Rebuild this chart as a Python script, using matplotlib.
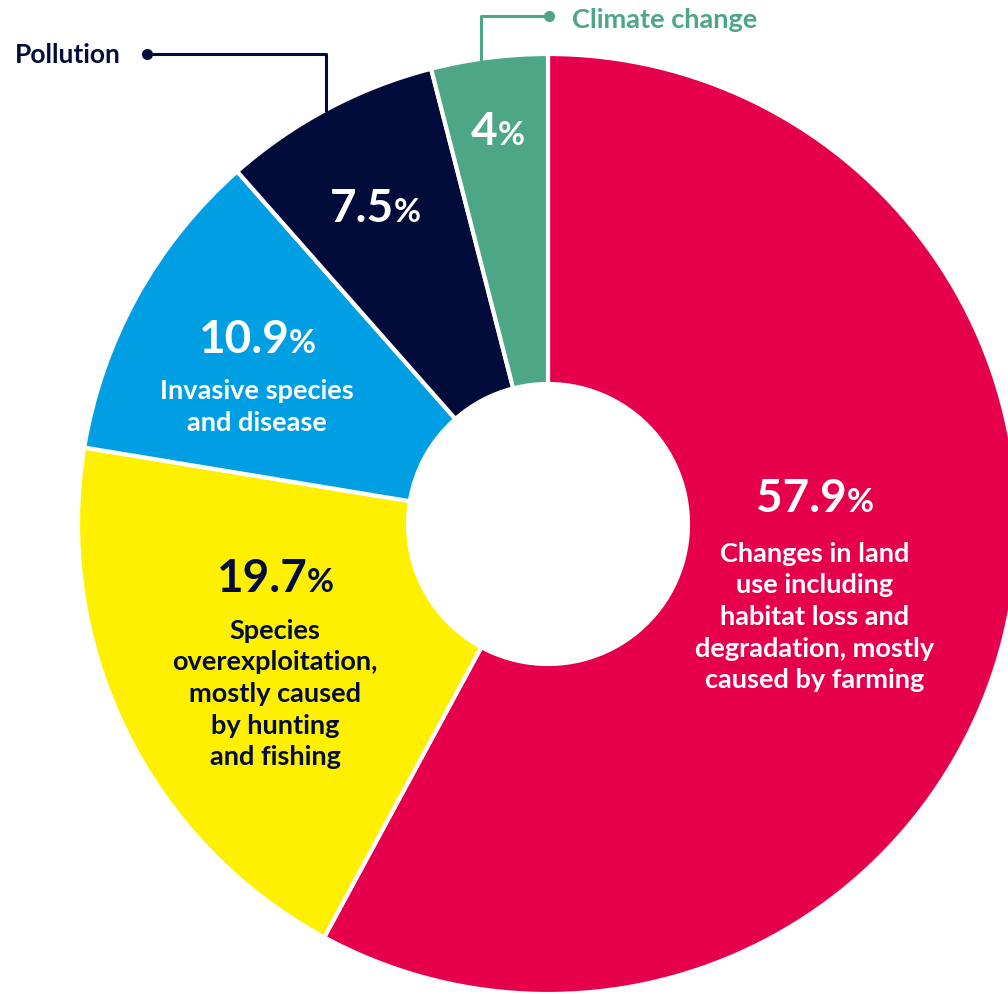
import matplotlib
matplotlib.use("Agg")
import matplotlib.pyplot as plt

# Datos del gráfico (porcentaje por amenaza)
causes = ["Changes in land use", "Species overexploitation", "Invasive species and disease",
          "Pollution", "Climate change"]
shares = [57.9, 19.7, 10.9, 7.5, 4.0]
share_labels = ["57.9", "19.7", "10.9", "7.5", "4"]
descriptions = [
    "Changes in land\nuse including\nhabitat loss and\ndegradation, mostly\ncaused by farming",
    "Species\noverexploitation,\nmostly caused\nby hunting\nand fishing",
    "Invasive species\nand disease",
    "",
    "",
]
colors = ["#E6004C", "#FFF000", "#009FE3", "#020C3A", "#4DA685"]
text_colors = ["white", "#020C3A", "white", "white", "white"]

W, H = 1008, 995
FONT = ["Lato", "DejaVu Sans"]

fig = plt.figure(figsize=(W / 100, H / 100), dpi=100)
ax = fig.add_axes([0, 0, 1, 1])

cx, cy, R = 548, H - 525, 470
ax.pie(shares, startangle=90, counterclock=False, colors=colors, center=(cx, cy),
       radius=R, wedgeprops=dict(width=330, edgecolor="white", linewidth=3))
ax.set_xlim(0, W)
ax.set_ylim(0, H)
ax.set_aspect("auto")
ax.axis("off")

renderer = fig.canvas.get_renderer()


def pct_label(x, y, num, color, size=33):
    # numero grande + "%" mas pequeno, centrados juntos
    t1 = ax.text(0, 0, num, fontsize=size, fontweight="bold", family=FONT, color=color,
                 ha="left", va="baseline")
    t2 = ax.text(0, 0, "%", fontsize=size * 0.72, fontweight="bold", family=FONT,
                 color=color, ha="left", va="baseline")
    w1 = t1.get_window_extent(renderer).width
    w2 = t2.get_window_extent(renderer).width
    x0 = x - (w1 + w2) / 2
    t1.set_position((x0, H - y))
    t2.set_position((x0 + w1, H - y))


# posiciones (pixeles) de etiquetas
pct_pos = [(815, 512), (275, 592), (257, 353), (375, 222), (498, 145)]
desc_pos = [(815, 617), (275, 694), (257, 407), None, None]

for i in range(len(shares)):
    pct_label(pct_pos[i][0], pct_pos[i][1], share_labels[i], text_colors[i])
    if descriptions[i]:
        ax.text(desc_pos[i][0], H - desc_pos[i][1], descriptions[i], fontsize=19.5,
                fontweight="bold", family=FONT, color=text_colors[i], ha="center",
                va="center", linespacing=1.38)

# Etiquetas externas con lineas guia
ax.plot([147, 326, 326], [H - 55, H - 55, H - 111], color=colors[3], lw=2.2)
ax.plot([147], [H - 55], "o", color=colors[3], ms=7)
ax.text(15, H - 55, "Pollution", fontsize=19, fontweight="bold", family=FONT,
        color=colors[3], ha="left", va="center")

ax.plot([549, 481, 481], [H - 17, H - 17, H - 61], color=colors[4], lw=2.2)
ax.plot([549], [H - 17], "o", color=colors[4], ms=7)
ax.text(572, H - 20, "Climate change", fontsize=19.5, fontweight="bold", family=FONT,
        color=colors[4], ha="left", va="center")

fig.savefig("out.png", dpi=100)
